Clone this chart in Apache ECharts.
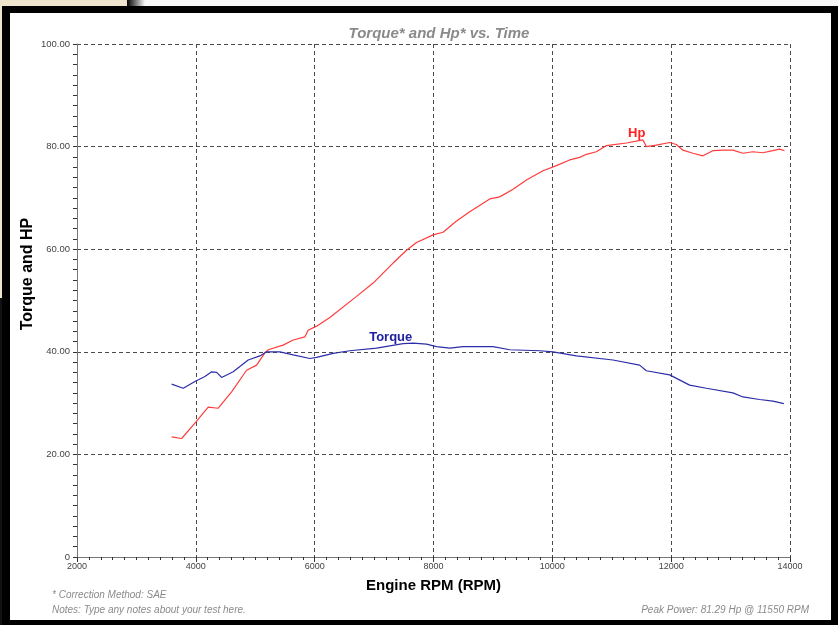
<!DOCTYPE html>
<html><head><meta charset="utf-8">
<script src="https://cdn.jsdelivr.net/npm/echarts@6/dist/echarts.min.js"></script>
<style>html,body{margin:0;padding:0;background:#fff}#c{width:838px;height:625px}</style>
</head><body><div id="c"></div>
<script>
const xTicks = [2000, 4000, 6000, 8000, 10000, 12000, 14000];
const yTicks = [0, 20, 40, 60, 80, 100];

const hpRpm = [3593,3761,3985,4208,4377,4602,4854,5023,5162,5218,5470,5638,5835,5890,6032,6256,6705,6984,7320,7546,7714,7993,8161,8387,8610,8947,9115,9339,9564,9843,10069,10292,10461,10573,10741,10910,11246,11525,11582,11750,11974,12087,12198,12366,12534,12702,12871,13039,13207,13375,13543,13711,13824,13908];
const hpVal = [23.4,23.1,26.1,29.2,29.0,32.2,36.4,37.4,39.8,40.4,41.3,42.3,42.9,44.2,45.0,46.7,50.8,53.4,57.3,59.8,61.3,62.8,63.3,65.5,67.3,69.8,70.2,71.7,73.5,75.3,76.3,77.4,77.9,78.5,79.0,80.2,80.7,81.3,80.0,80.3,80.8,80.4,79.3,78.7,78.2,79.2,79.3,79.3,78.7,79.0,78.8,79.2,79.5,79.2];

const tqRpm = [3593,3788,3985,4153,4266,4350,4434,4629,4881,5078,5191,5414,5638,5919,6032,6311,6592,7041,7489,7657,7882,8050,8274,8498,9002,9283,9788,10011,10405,11020,11469,11582,11974,12311,12592,13039,13207,13488,13712,13897];
const tqVal = [33.7,32.9,34.2,35.2,36.1,36.0,35.0,36.1,38.4,39.2,40.0,40.0,39.4,38.7,38.9,39.7,40.2,40.7,41.6,41.7,41.5,41.0,40.7,41.0,41.0,40.4,40.2,40.0,39.2,38.4,37.4,36.3,35.5,33.5,32.9,32.0,31.2,30.7,30.4,29.9];

const hpLabel = ['Hp', 11420, 82.6];
const tqLabel = ['Torque', 7280, 42.9];

const FONT = '"Liberation Sans", Arial, sans-serif';
const chart = echarts.init(document.getElementById('c'), null, {renderer: 'canvas'});

function pairs(xs, ys) { return xs.map((x, i) => [x, ys[i]]); }

chart.setOption({
  backgroundColor: '#ffffff',
  animation: false,
  title: {
    text: 'Torque* and Hp* vs. Time',
    left: 434, top: 21, textAlign: 'center',
    textStyle: {fontFamily: FONT, fontSize: 15, fontStyle: 'italic', fontWeight: 'bold', color: '#8a8a8a'}
  },
  grid: {left: 77, right: 48, top: 44, bottom: 68, containLabel: false},
  xAxis: {
    type: 'value', min: xTicks[0], max: xTicks[xTicks.length - 1], interval: 2000,
    name: 'Engine RPM (RPM)', nameLocation: 'middle', nameGap: 21,
    nameTextStyle: {fontFamily: FONT, fontSize: 15, fontWeight: 'bold', color: '#000'},
    axisLine: {show: true, lineStyle: {color: '#777', width: 1}},
    axisTick: {show: true, length: 5, lineStyle: {color: '#333'}},
    minorTick: {show: true, splitNumber: 10, length: 3, lineStyle: {color: '#333'}},
    axisLabel: {fontFamily: FONT, fontSize: 9, color: '#444', margin: 5, formatter: v => String(v)},
    splitLine: {show: true, lineStyle: {color: '#4a4a4a', type: [4, 3], width: 1}}
  },
  yAxis: {
    type: 'value', min: yTicks[0], max: yTicks[yTicks.length - 1], interval: 20,
    axisLine: {show: true, lineStyle: {color: '#777', width: 1}},
    axisTick: {show: true, length: 4, lineStyle: {color: '#333'}},
    minorTick: {show: true, splitNumber: 10, length: 4, lineStyle: {color: '#333'}},
    axisLabel: {fontFamily: FONT, fontSize: 9.5, color: '#444', margin: 7,
      formatter: v => v === 0 ? '0' : v.toFixed(2)},
    splitLine: {show: true, lineStyle: {color: '#4a4a4a', type: [4, 3], width: 1}}
  },
  series: [
    {
      name: 'Hp', type: 'line', showSymbol: false, smooth: false,
      data: pairs(hpRpm, hpVal),
      lineStyle: {color: '#ff3c3c', width: 1.2}, itemStyle: {color: '#ff3c3c'},
      markPoint: {symbol: 'circle', symbolSize: 0, data: [{coord: [hpLabel[1], hpLabel[2]], value: hpLabel[0]}],
        label: {show: true, formatter: hpLabel[0], fontFamily: FONT, fontSize: 13, fontWeight: 'bold', color: '#ff2020', position: 'inside'}}
    },
    {
      name: 'Torque', type: 'line', showSymbol: false, smooth: false,
      data: pairs(tqRpm, tqVal),
      lineStyle: {color: '#2d2da8', width: 1.2}, itemStyle: {color: '#2d2da8'},
      markPoint: {symbol: 'circle', symbolSize: 0, data: [{coord: [tqLabel[1], tqLabel[2]], value: tqLabel[0]}],
        label: {show: true, formatter: tqLabel[0], fontFamily: FONT, fontSize: 13, fontWeight: 'bold', color: '#2020a0', position: 'inside'}}
    }
  ],
  graphic: [
    {type: 'rect', z: -10, silent: true, shape: {x: 0, y: 0, width: 838, height: 6}, style: {fill: '#f6f6f6'}},
    {type: 'rect', z: -9, silent: true, shape: {x: 0, y: 0, width: 127, height: 6}, style: {fill: '#efe5cf'}},
    {type: 'rect', z: -9, silent: true, shape: {x: 0, y: 0, width: 2, height: 298}, style: {fill: '#efe5cf'}},
    {type: 'rect', z: -9, silent: true, shape: {x: 127, y: 0, width: 18, height: 6},
      style: {fill: new echarts.graphic.LinearGradient(0, 0, 1, 0, [{offset: 0, color: '#000'}, {offset: 1, color: '#f6f6f6'}])}},
    {type: 'rect', z: -9, silent: true, shape: {x: 0, y: 298, width: 2, height: 327}, style: {fill: '#111'}},
    {type: 'rect', z: -8, silent: true, shape: {x: 2, y: 6, width: 836, height: 7}, style: {fill: '#000'}},
    {type: 'rect', z: -8, silent: true, shape: {x: 2, y: 6, width: 8, height: 619}, style: {fill: '#000'}},
    {type: 'rect', z: -8, silent: true, shape: {x: 831, y: 6, width: 7, height: 619}, style: {fill: '#000'}},
    {type: 'rect', z: -8, silent: true, shape: {x: 2, y: 620, width: 836, height: 5}, style: {fill: '#000'}},
    {type: 'text', x: 28, y: 274, rotation: Math.PI / 2,
      style: {text: 'Torque and HP', font: 'bold 16px ' + FONT, fill: '#000', textAlign: 'center', textVerticalAlign: 'middle'}},
    {type: 'text', left: 52, top: 590, style: {text: '* Correction Method: SAE', font: 'italic 10px ' + FONT, fill: '#8a8a8a'}},
    {type: 'text', left: 52, top: 605, style: {text: 'Notes: Type any notes about your test here.', font: 'italic 10px ' + FONT, fill: '#8a8a8a'}},
    {type: 'text', right: 29, top: 605, style: {text: 'Peak Power: 81.29 Hp @ 11550 RPM', font: 'italic 10px ' + FONT, fill: '#8a8a8a', textAlign: 'right'}}
  ]
});
</script>
</body></html>
